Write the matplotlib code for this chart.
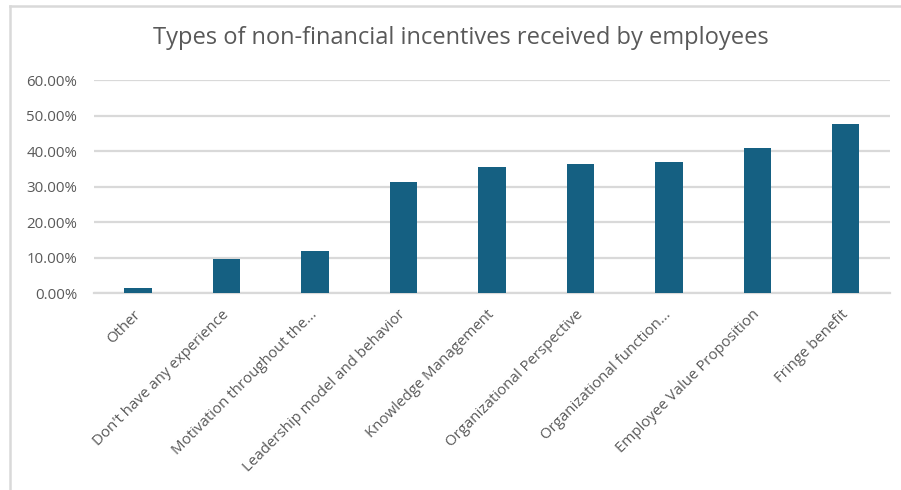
import matplotlib
matplotlib.use("Agg")
import matplotlib.pyplot as plt
import matplotlib.ticker as mticker
from matplotlib.lines import Line2D

# Share of employees receiving each type of non-financial incentive
categorias = [
    "Other",
    "Don't have any experience",
    "Motivation throughout the...",
    "Leadership model and behavior",
    "Knowledge Management",
    "Organizational Perspective",
    "Organizational function...",
    "Employee Value Proposition",
    "Fringe benefit",
]
porcentajes = [0.013, 0.097, 0.117, 0.312, 0.355, 0.364, 0.369, 0.409, 0.476]
y_ticks = [0.0, 0.1, 0.2, 0.3, 0.4, 0.5, 0.6]

AZUL = "#156082"
GRIS_TXT = "#595959"
GRIS_LIN = "#d9d9d9"

plt.rcParams["font.family"] = ["Open Sans", "DejaVu Sans"]

fig = plt.figure(figsize=(9.01, 4.9), dpi=100)
ax = fig.add_axes([0.1043, 0.402, 0.8835, 0.4347])

x = range(len(categorias))
ax.bar(x, porcentajes, width=0.31, color=AZUL, zorder=3)

ax.set_xlim(-0.5, len(categorias) - 0.5)
ax.set_ylim(0, 0.6)
ax.set_yticks(y_ticks)
ax.yaxis.set_major_formatter(mticker.FuncFormatter(lambda v, _: f"{v*100:.2f}%"))
ax.grid(axis="y", color=GRIS_LIN, linewidth=1.6, zorder=0)
ax.tick_params(axis="y", length=0, pad=12, labelsize=10.8, labelcolor=GRIS_TXT)

ax.set_xticks(list(x))
ax.set_xticklabels(categorias, rotation=45, ha="right", va="center",
                   rotation_mode="anchor", fontsize=10.8, color=GRIS_TXT)
ax.tick_params(axis="x", length=0, pad=14)

for s in ["top", "right", "left"]:
    ax.spines[s].set_visible(False)
ax.spines["bottom"].set_color(GRIS_LIN)
ax.spines["bottom"].set_linewidth(1.6)

fig.text(0.511, 0.922, "Types of non-financial incentives received by employees",
         ha="center", va="center", fontsize=17, color=GRIS_TXT)

# marco del grafico (solo borde superior e izquierdo visibles)
fig.add_artist(Line2D([10 / 901, 1], [1 - 6 / 490] * 2, color=GRIS_LIN, lw=1.8,
                      transform=fig.transFigure))
fig.add_artist(Line2D([10 / 901] * 2, [0, 1 - 6 / 490], color=GRIS_LIN, lw=1.8,
                      transform=fig.transFigure))

fig.savefig("out.png", dpi=100)
plt.close(fig)
